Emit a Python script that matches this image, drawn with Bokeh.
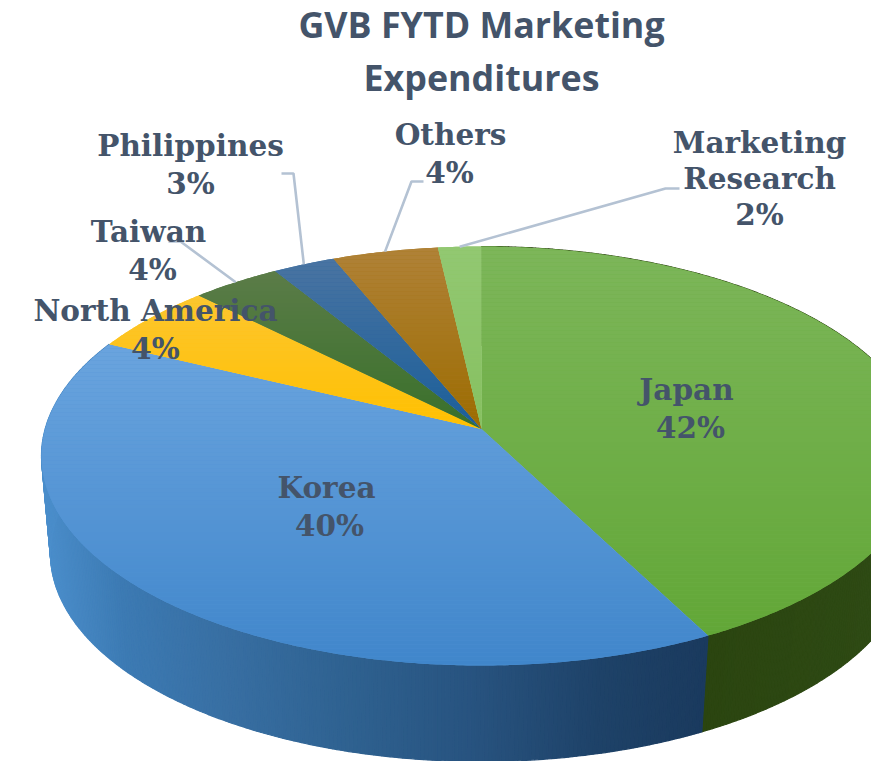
import math
from bokeh.plotting import figure
from bokeh.models import ColumnDataSource
from bokeh.core.properties import value
from bokeh.embed import file_html
from bokeh.resources import INLINE

# ---- data -----------------------------------------------------------
categories = ["Japan", "Korea", "North America", "Taiwan", "Philippines", "Others", "Marketing Research"]
shares = [42.4, 39.75, 5.35, 3.7, 2.6, 4.4, 1.8]       # slice sizes
percent_labels = ["42%", "40%", "4%", "4%", "3%", "4%", "2%"]
title_lines = ["GVB FYTD Marketing", "Expenditures"]

# ---- styles ---------------------------------------------------------
top_colors_far = ["#7db65a", "#6aa4de", "#fcc630", "#5b7c48", "#4a74a2", "#b08238", "#92c872"]
top_colors_near = ["#62a737", "#4086cb", "#ffc000", "#39702a", "#1a5e99", "#9c6c00", "#86c060"]
wall_stops = {
    "Korea": [(40, "#4b8ecb"), (120, "#3c7ab3"), (220, "#386fa3"), (340, "#2f6291"),
              (480, "#27527e"), (600, "#1e4268"), (708, "#1a3a5e")],
    "Japan": [(708, "#2b4510"), (880, "#2e4a14")],
}
TEXT = "#44546A"
LEADER = "#b4c2d3"

# pie geometry in picture pixels
CX, CY, RX, RY = 481, 455.5, 440, 209.5
BX, BY, BRX, BRY = 480, 553, 430, 208
TILT = 0.129

# ---- helpers --------------------------------------------------------
def hex_rgb(h):
    return [int(h[i:i + 2], 16) for i in (1, 3, 5)]

def mix(a, b, t):
    t = max(0.0, min(1.0, t))
    ca, cb = hex_rgb(a), hex_rgb(b)
    return "#%02x%02x%02x" % tuple(round(x + (y - x) * t) for x, y in zip(ca, cb))

def rim(deg, cx=CX, cy=CY, rx=RX, ry=RY):
    """Perspective point on the rim for a clockwise angle from 12 o'clock."""
    th = math.radians(deg)
    u, v = math.sin(th), math.cos(th)
    d = 1 + TILT * v
    vp = (v + TILT) / d
    up = u * math.sqrt(1 - TILT ** 2) / d
    return cx + rx * up, cy - ry * vp

def clip_band(poly, y0, y1):
    def clip(points, inside, cross):
        out = []
        for i, p in enumerate(points):
            q = points[(i + 1) % len(points)]
            if inside(p):
                out.append(p)
            if inside(p) != inside(q):
                out.append(cross(p, q))
        return out
    def at(y):
        return lambda p, q: (p[0] + (q[0] - p[0]) * (y - p[1]) / (q[1] - p[1]), y)
    r = clip(poly, lambda p: p[1] >= y0, at(y0))
    if r:
        r = clip(r, lambda p: p[1] <= y1, at(y1))
    return r

# slice angle ranges
total = sum(shares)
starts, ends, c = [], [], 0.0
for s in shares:
    starts.append(c / total * 360)
    c += s
    ends.append(c / total * 360)
mids = {n: (a + b) / 2 for n, a, b in zip(categories, starts, ends)}
apex = (CX, CY - RY * TILT)

# ---- figure: data coordinates equal picture pixels ------------------
p = figure(width=871, height=761, x_range=(0, 871), y_range=(761, 0),
           output_backend="svg", toolbar_location=None, min_border=0)
p.axis.visible = False
p.grid.visible = False
p.outline_line_color = None
p.background_fill_color = "#ffffff"
p.border_fill_color = "#ffffff"

# side wall
xs, ys, cols = [], [], []
for n, a, b in zip(categories, starts, ends):
    if n not in wall_stops:
        continue
    stops = wall_stops[n]
    steps = max(2, int((b - a) / 0.5))
    for i in range(steps):
        t0 = a + (b - a) * i / steps
        t1 = a + (b - a) * (i + 1) / steps
        p0, p1 = rim(t0), rim(t1)
        q0, q1 = rim(t0, BX, BY, BRX, BRY), rim(t1, BX, BY, BRX, BRY)
        mx = (p0[0] + p1[0]) / 2
        col = stops[-1][1]
        for (x0, c0), (x1, c1) in zip(stops, stops[1:]):
            if x0 <= mx <= x1:
                col = mix(c0, c1, (mx - x0) / (x1 - x0))
                break
        else:
            if mx < stops[0][0]:
                col = stops[0][1]
        xs.append([p0[0], p1[0], q1[0], q0[0]])
        ys.append([p0[1], p1[1], q1[1], q0[1]])
        cols.append(col)
p.patches("xs", "ys", source=ColumnDataSource(dict(xs=xs, ys=ys, c=cols)),
          fill_color="c", line_color="c", line_width=1.2)

# top face, in horizontal bands for the vertical shading
xs, ys, cols = [], [], []
for i, (a, b) in enumerate(zip(starts, ends)):
    steps = max(4, int((b - a) / 0.5))
    poly = [apex] + [rim(a + (b - a) * k / steps) for k in range(steps + 1)]
    y0 = min(q[1] for q in poly)
    y1 = max(q[1] for q in poly)
    # one full wedge underneath so band seams cannot show the layer below
    xs.append([q[0] for q in poly])
    ys.append([q[1] for q in poly])
    cols.append(mix(top_colors_far[i], top_colors_near[i], 0.5))
    y = y0
    while y < y1:
        band = clip_band(poly, y, y + 4)
        if len(band) >= 3:
            xs.append([q[0] for q in band])
            ys.append([q[1] for q in band])
            span = max(y1 - y0, 1)
            cols.append(mix(top_colors_far[i], top_colors_near[i], (y + 2 - y0) / span))
        y += 4
p.patches("xs", "ys", source=ColumnDataSource(dict(xs=xs, ys=ys, c=cols)),
          fill_color="c", fill_alpha=1, line_color=None)

# leader lines: elbow layout, ending on the rim at each slice's middle
leaders = {
    "Taiwan": [(168, 241), (180, 241)],
    "Philippines": [(281, 173), (293, 173)],
    "Others": [(423, 181), (411, 181)],
    "Marketing Research": [(679, 188), (665, 188)],
}
for n, pts in leaders.items():
    end = rim(mids[n])
    p.line([q[0] for q in pts] + [end[0]], [q[1] for q in pts] + [end[1]],
           line_color=LEADER, line_width=2.6)

# labels
idx = {n: i for i, n in enumerate(categories)}
def pct(n):
    return percent_labels[idx[n]]

label_rows = [
    ("Philippines", 190, 145), (pct("Philippines"), 190, 183),
    ("Taiwan", 148, 231), (pct("Taiwan"), 152, 269),
    ("North America", 155, 310), (pct("North America"), 155, 348),
    ("Others", 450, 134), (pct("Others"), 449, 172),
    ("Marketing", 759, 142), ("Research", 759, 178), (pct("Marketing Research"), 759, 214),
    ("Japan", 686, 389), (pct("Japan"), 690, 427),
    ("Korea", 326, 487), (pct("Korea"), 329, 525),
]
p.text(x=[r[1] for r in label_rows], y=[r[2] for r in label_rows], text=[r[0] for r in label_rows],
       text_font=value("DejaVu Serif"), text_font_style="bold", text_font_size="29.5px",
       text_color=TEXT, text_align="center", text_baseline="middle")

# title
p.text(x=[481, 481], y=[23, 76], text=title_lines,
       text_font=value("Open Sans"), text_font_style="bold", text_font_size="35.8px",
       text_color=TEXT, text_align="center", text_baseline="middle")

open("out.html", "w").write(file_html(p, INLINE))
